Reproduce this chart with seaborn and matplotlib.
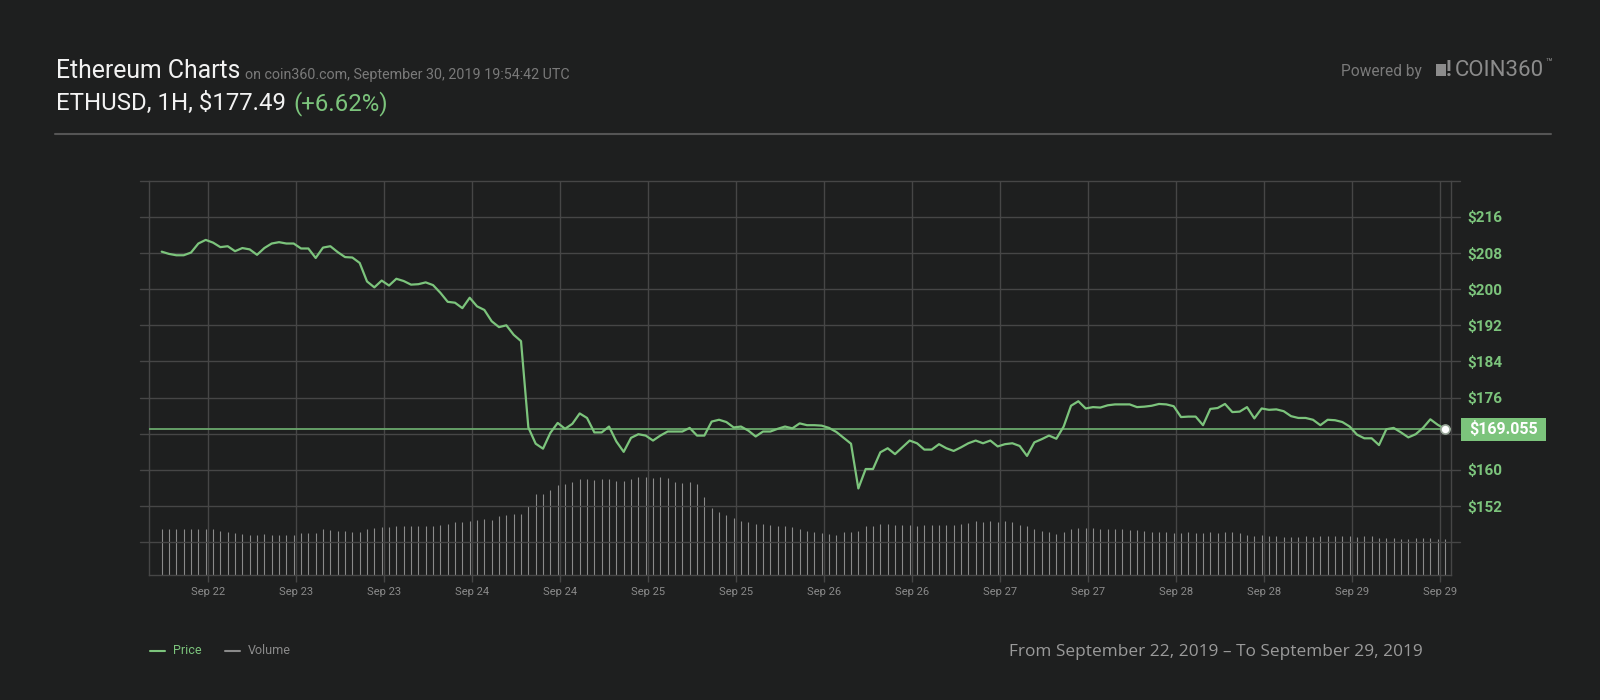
import numpy as np
import pandas as pd
import matplotlib
matplotlib.use("Agg")
import matplotlib.pyplot as plt
from matplotlib.patches import Rectangle
from matplotlib.lines import Line2D
from matplotlib.transforms import blended_transform_factory
import seaborn as sns

# ---------------- data ----------------
price = [
    208.3, 207.8, 207.5, 207.5, 208.1, 210.1, 210.9, 210.3, 209.3, 209.5,
    208.4, 209.1, 208.8, 207.6, 209.1, 210.1, 210.4, 210.1, 210.1, 209.0,
    209.0, 206.9, 209.2, 209.5, 208.2, 207.1, 207.0, 205.8, 201.7, 200.4,
    201.9, 200.8, 202.3, 201.8, 201.0, 201.1, 201.5, 200.9, 199.2, 197.2,
    197.0, 195.8, 198.1, 196.2, 195.4, 192.9, 191.6, 192.0, 189.9, 188.5,
    169.4, 165.8, 164.7, 168.2, 170.4, 169.1, 170.2, 172.5, 171.5, 168.3,
    168.3, 169.6, 166.3, 164.0, 167.1, 167.9, 167.6, 166.5, 167.6, 168.5,
    168.5, 168.5, 169.3, 167.6, 167.6, 170.7, 171.1, 170.6, 169.4, 169.6,
    168.7, 167.4, 168.5, 168.5, 169.1, 169.6, 169.2, 170.3, 169.9, 169.9,
    169.8, 169.3, 168.4, 167.1, 165.8, 155.9, 160.2, 160.2, 163.9, 164.8,
    163.5, 165.0, 166.5, 165.9, 164.5, 164.5, 165.7, 164.8, 164.2, 165.0,
    165.9, 166.5, 165.9, 166.5, 165.2, 165.7, 165.9, 165.3, 163.1, 166.1,
    166.8, 167.6, 166.9, 169.6, 174.2, 175.2, 173.6, 173.9, 173.8, 174.3,
    174.5, 174.5, 174.5, 173.9, 174.0, 174.2, 174.6, 174.5, 174.1, 171.7,
    171.8, 171.8, 169.9, 173.5, 173.7, 174.6, 172.8, 172.9, 173.9, 171.4,
    173.6, 173.3, 173.4, 173.0, 171.9, 171.5, 171.5, 171.1, 169.9, 171.1,
    171.0, 170.6, 169.6, 167.8, 167.0, 167.0, 165.5, 169.0, 169.3, 168.3,
    167.2, 167.9, 169.3, 171.2, 170.0, 169.055,
]

volume = [
    46, 46, 46, 46, 46, 46, 46, 46, 44, 43,
    42, 41, 40, 40, 41, 40, 40, 40, 40, 42,
    42, 42, 46, 45, 44, 44, 43, 43, 46, 47,
    48, 48, 49, 49, 49, 49, 49, 49, 50, 51,
    53, 53, 54, 55, 56, 55, 59, 60, 61, 61,
    69, 81, 81, 85, 90, 91, 93, 96, 96, 95,
    96, 96, 94, 94, 96, 98, 98, 97, 98, 97,
    93, 92, 93, 91, 78, 67, 63, 60, 57, 54,
    53, 51, 51, 50, 49, 49, 48, 46, 44, 43,
    42, 41, 40, 43, 43, 44, 49, 49, 51, 51,
    50, 50, 50, 49, 50, 50, 50, 50, 50, 51,
    52, 54, 53, 54, 53, 54, 53, 50, 49, 46,
    44, 43, 41, 43, 46, 47, 47, 47, 46, 46,
    46, 46, 45, 45, 44, 43, 43, 43, 42, 42,
    43, 42, 42, 43, 42, 43, 43, 42, 40, 39,
    40, 39, 39, 38, 38, 38, 39, 38, 39, 39,
    39, 39, 39, 38, 39, 39, 37, 37, 37, 36,
    36, 37, 37, 37, 36, 36,
]

start_time = "2019-09-22 05:39"
tick_start = "2019-09-22 12:00"
tick_end = "2019-09-29 12:00"
grid_levels = [144, 152, 160, 168, 176, 184, 192, 200, 208, 216, 224]
label_levels = [152, 160, 176, 184, 192, 200, 208, 216]

title = "Ethereum Charts"
subtitle = "on coin360.com, September 30, 2019 19:54:42 UTC"
pair_text = "ETHUSD, 1H, $177.49"
change_text = "(+6.62%)"
footer = "From September 22, 2019 \u2013 To September 29, 2019"

# ---------------- style ----------------
sns.set_theme(style="dark")
plt.rcParams['font.family'] = ['Roboto', 'DejaVu Sans']

BG = "#1e1f1f"
GRID = "#464646"
GREEN = "#7cc47c"
GREEN_LINE = "#6aa86c"
VOL = "#8a8a8a"
WHITE = "#f2f2f2"
GRAY_TXT = "#7a7a7a"
LOGO = "#8c8c8c"

W, H = 1600, 700
L, R, T, B = 149.3, 1450.5, 180.7, 575.0

fig = plt.figure(figsize=(16, 7), dpi=100, facecolor=BG)

def fx(px):
    return px / W

def fy(py):
    return 1 - py / H

times = pd.date_range(start_time, periods=len(price), freq="h")
df = pd.DataFrame({"time": times, "price": price, "volume": volume})

ax_vol = fig.add_axes([fx(L), fy(B), (R - L) / W, (B - T) / H])
ax_vol.set_facecolor(BG)
ax = ax_vol.twinx()
ax.patch.set_visible(False)

x0 = times[0] - pd.Timedelta(hours=1.69)
x1 = times[0] + pd.Timedelta(hours=175.75)

# volume bars (thin stems)
ax_vol.vlines(df["time"], 0, df["volume"], color=VOL, linewidth=0.8)
ax_vol.set_ylim(0, B - T)
ax_vol.set_yticks([])
ax_vol.set_xlim(x0, x1)

ticks = pd.date_range(tick_start, tick_end, freq="12h")
ax_vol.set_xticks(ticks)
ax_vol.set_xticklabels([t.strftime("%b %d") for t in ticks])
ax_vol.tick_params(axis="x", colors=GRID, length=5, width=1, pad=3.5,
                   labelcolor="#8a8a8a", labelsize=8, bottom=True)
ax_vol.grid(axis="x", color=GRID, linewidth=1)
ax_vol.grid(axis="y", visible=False)
for s in ["left", "right", "bottom"]:
    ax_vol.spines[s].set_color(GRID)
    ax_vol.spines[s].set_linewidth(1)
    ax_vol.spines[s].set_visible(True)
ax_vol.spines["top"].set_visible(False)

# price
ymin, ymax = 136.75, 224.0
ax.set_ylim(ymin, ymax)
ax.set_xlim(x0, x1)
for lvl in grid_levels:
    ax.axhline(lvl, xmin=(140 - L) / (R - L), xmax=(1460 - L) / (R - L),
               color=GRID, linewidth=1, clip_on=False, zorder=0)
ax.axhline(price[-1], color=GREEN_LINE, linewidth=1.3, zorder=1)
sns.lineplot(data=df, x="time", y="price", ax=ax, color=GREEN,
             linewidth=1.6, zorder=3)
ax.plot([times[-1]], [price[-1]], "o", mfc="white", mec="#9aa89a",
        mew=1.2, ms=6.5, zorder=4)
ax.set_xlabel("")
ax.set_ylabel("")
ax.grid(False)
for s in ax.spines.values():
    s.set_visible(False)
ax.set_yticks(label_levels)
ax.set_yticklabels([f"${v}" for v in label_levels])
ax.yaxis.tick_right()
ax.tick_params(axis="y", length=0, pad=12, labelcolor=GREEN, labelsize=11)
for lab in ax.get_yticklabels():
    lab.set_fontweight("bold")
ax.tick_params(axis="x", bottom=False, labelbottom=False)

# last price box
px_per_unit = (B - T) / (ymax - ymin)
box_h = 23 / px_per_unit
trans = blended_transform_factory(fig.transFigure, ax.transData)
rect = Rectangle((fx(1461), price[-1] - box_h / 2), (1546 - 1461) / W, box_h,
                 transform=trans, facecolor=GREEN, edgecolor="none",
                 clip_on=False, zorder=5)
ax.add_patch(rect)
ax.text(fx((1461 + 1546) / 2), price[-1], f"${price[-1]:.3f}", transform=trans,
        ha="center", va="center", color="white", fontsize=11.5,
        fontweight="bold", zorder=6, clip_on=False)

# ---------------- header ----------------
fig.canvas.draw()
renderer = fig.canvas.get_renderer()

t1 = fig.text(fx(56), fy(78.5), title, color=WHITE, fontsize=17.8, va="baseline")
bb = t1.get_window_extent(renderer)
fig.text(bb.x1 / W + fx(5), fy(78.5), subtitle, color=GRAY_TXT,
         fontsize=10.3, va="baseline")

t2 = fig.text(fx(56), fy(110), pair_text, color=WHITE, fontsize=17.3, va="baseline")
bb2 = t2.get_window_extent(renderer)
fig.text(bb2.x1 / W + fx(7), fy(110), change_text, color=GREEN,
         fontsize=17.3, va="baseline")

fig.add_artist(Line2D([fx(55), fx(1551)], [fy(133.7), fy(133.7)],
                      color="#555555", linewidth=1.5))

fig.text(fx(1341), fy(76), "Powered by", color=GRAY_TXT, fontsize=11.2,
         va="baseline")
fig.add_artist(Rectangle((fx(1436), fy(75.7)), fx(10), (75.7 - 64.3) / H,
                         transform=fig.transFigure, facecolor=LOGO,
                         edgecolor="none"))
fig.text(fx(1446), fy(76), "!", color=LOGO, fontsize=15.5,
         fontweight="bold", va="baseline")
t3 = fig.text(fx(1455), fy(76), "COIN360", color=LOGO, fontsize=16,
              va="baseline")
bb3 = t3.get_window_extent(renderer)
fig.text(bb3.x1 / W + fx(1), fy(66), "\u2122", color=LOGO, fontsize=8,
         va="baseline")

# ---------------- legend ----------------
fig.add_artist(Line2D([fx(150), fx(165)], [fy(651), fy(651)],
                      color=GREEN, linewidth=1.5))
fig.text(fx(173), fy(651), "Price", color=GREEN, fontsize=9, va="center")
fig.add_artist(Line2D([fx(225), fx(240)], [fy(651), fy(651)],
                      color="#8a8a8a", linewidth=1.5))
fig.text(fx(248), fy(651), "Volume", color="#8a8a8a", fontsize=9, va="center")

# ---------------- footer ----------------
fig.text(fx(1009), fy(652.5), footer, color="#9a9a9a", fontsize=12.4,
         family=["Open Sans", "DejaVu Sans"], va="center")

fig.savefig("out.png", dpi=100, facecolor=BG)
